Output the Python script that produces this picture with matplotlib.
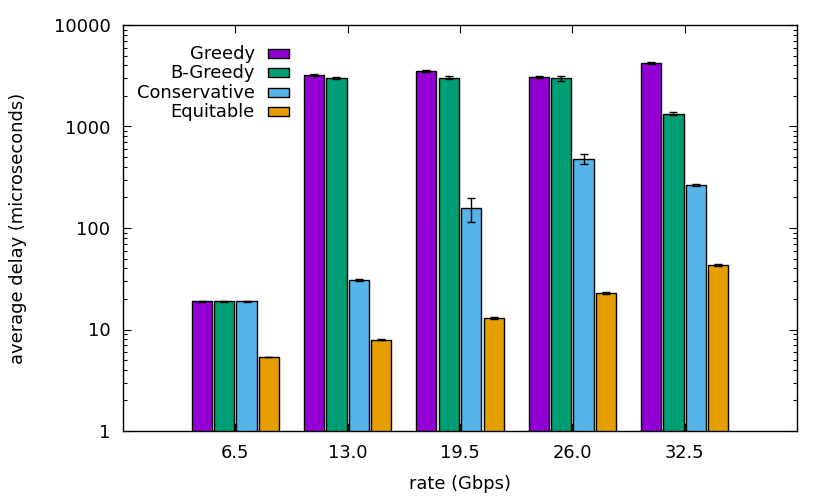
import matplotlib
matplotlib.use("Agg")
import matplotlib.pyplot as plt
from matplotlib.patches import Rectangle
from matplotlib.ticker import LogLocator, FixedLocator, NullFormatter
import numpy as np

rates = ["6.5", "13.0", "19.5", "26.0", "32.5"]
series = ["Greedy", "B-Greedy", "Conservative", "Equitable"]
colors = ["#9400D3", "#009E73", "#56B4E9", "#E69F00"]

greedy = [19.0, 3220, 3550, 3100, 4200]
bgreedy = [19.0, 2990, 3030, 2990, 1340]
conservative = [19.0, 30.7, 157, 482, 265]
equitable = [5.35, 7.9, 13.0, 22.9, 43.0]

greedy_err = [0.2, 50, 70, 70, 110]
bgreedy_err = [0.2, 60, 90, 170, 55]
conservative_err = [0.2, 0.5, 42, 58, 6]
equitable_err = [0.05, 0.1, 0.2, 0.4, 0.8]

values = [greedy, bgreedy, conservative, equitable]
errors = [greedy_err, bgreedy_err, conservative_err, equitable_err]

FS = 12.9
plt.rcParams['font.family'] = ['DejaVu Sans']
fig = plt.figure(figsize=(8.3, 4.98), dpi=100)
ax = fig.add_axes([123/830, 67/498, 674/830, 406/498])

x = np.arange(len(rates))
bw = 0.18
for i, (vals, errs, col) in enumerate(zip(values, errors, colors)):
    pos = x + (i - 1.5) * 0.2
    ax.bar(pos, vals, width=bw, color=col, edgecolor='black', linewidth=1.0, zorder=2)
    ax.errorbar(pos, vals, yerr=errs, fmt='none', ecolor='black', elinewidth=1.0,
                capsize=3, capthick=1.0, zorder=3)

ax.set_yscale('log')
ax.set_ylim(1, 10000)
ax.set_xlim(-1, 5)
ax.set_xticks(x)
ax.set_xticklabels(rates)
ax.yaxis.set_major_locator(FixedLocator([1, 10, 100, 1000, 10000]))
ax.set_yticklabels(["1", "10", "100", "1000", "10000"])
ax.yaxis.set_minor_locator(LogLocator(base=10, subs=np.arange(2, 10)))
ax.yaxis.set_minor_formatter(NullFormatter())

ax.tick_params(axis='both', which='major', direction='in', length=6, width=0.8,
               labelsize=FS, top=True, right=True, pad=9)
ax.tick_params(axis='y', which='minor', direction='in', length=3, width=0.8,
               right=True)
ax.tick_params(axis='x', which='minor', bottom=False, top=False)
for sp in ax.spines.values():
    sp.set_linewidth(1.0)

ax.set_ylabel("average delay (microseconds)", fontsize=FS, labelpad=19)
ax.set_xlabel("rate (Gbps)", fontsize=FS, labelpad=10)

# legend (gnuplot style: text right-aligned, key box on the right)
text_x = 0.1958
key_x0 = 0.2151
key_w = 0.0312
key_h = 0.0222
rows_y = [0.9286, 0.8818, 0.8333, 0.7865]
for name, col, yy in zip(series, colors, rows_y):
    ax.text(text_x, yy, name, transform=ax.transAxes, ha='right', va='center',
            fontsize=FS)
    ax.add_patch(Rectangle((key_x0, yy - key_h / 2), key_w, key_h,
                           transform=ax.transAxes, facecolor=col,
                           edgecolor='black', linewidth=1.0, zorder=4))

fig.savefig("out.png", dpi=100)
